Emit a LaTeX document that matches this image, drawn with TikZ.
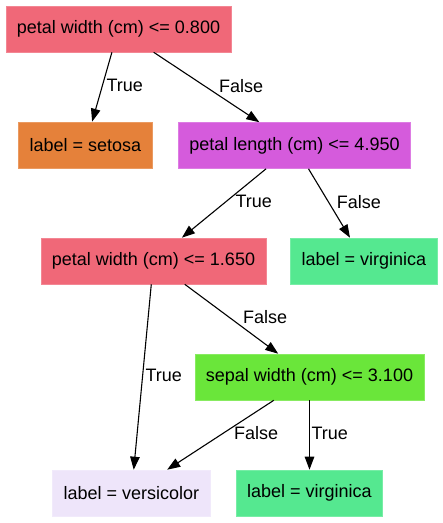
\documentclass[tikz,border=0pt]{standalone}
\usepackage{fontspec}
\setmainfont{Liberation Sans}
\usepackage{tikz}
\usetikzlibrary{arrows.meta, positioning}
\usepackage{xcolor}

\definecolor{splitred}{HTML}{F06878}
\definecolor{setosaorange}{HTML}{E5813A}
\definecolor{lengthmagenta}{HTML}{D55BDC}
\definecolor{virginicagreen}{HTML}{55E890}
\definecolor{sepalgreen}{HTML}{6AE63A}
\definecolor{versicolorlav}{HTML}{EEE5FA}

\begin{document}
\begin{tikzpicture}[
x=1pt, y=-1pt,
box/.style={rectangle, fill=#1, draw=#1!80!white, line width=0.6pt, text centered, minimum height=46pt, inner xsep=11pt, font=\fontsize{18}{21}\selectfont},
arrow/.style={-{Triangle[length=13pt, width=9.5pt]}, line width=1.1pt},
lbl/.style={inner sep=0pt, yshift=1.5pt, font=\fontsize{18}{21}\selectfont}
]
    \useasboundingbox (0,0) rectangle (443,523);

    \node[box=splitred] (root) at (118.5,29) {petal width (cm) <= 0.800};
    \node[box=setosaorange] (setosa) at (85.5,145) {label = setosa};
    \node[box=lengthmagenta] (plen) at (294.5,145.5) {petal length (cm) <= 4.950};
    \node[box=splitred] (pwid) at (153.5,261) {petal width (cm) <= 1.650};
    \node[box=virginicagreen] (virg1) at (364,261) {label = virginica};
    \node[box=sepalgreen] (swid) at (309.5,377) {sepal width (cm) <= 3.100};
    \node[box=versicolorlav] (versi) at (131.5,493) {label = versicolor};
    \node[box=virginicagreen] (virg2) at (309.5,493) {label = virginica};

    \draw[arrow] (root) -- node[lbl, right=4pt] {True} (setosa);
    \draw[arrow] (root) -- node[lbl, right=12pt] {False} (plen);
    \draw[arrow] (plen) -- node[lbl, right=11pt] {True} (pwid);
    \draw[arrow] (plen) -- node[lbl, right=7pt] {False} (virg1);
    \draw[arrow] (pwid) -- node[lbl, right=2.5pt] {True} (versi);
    \draw[arrow] (pwid) -- node[lbl, right=11pt] {False} (swid);
    \draw[arrow] (swid) -- node[lbl, right=13pt] {False} (versi);
    \draw[arrow] (swid) -- node[lbl, right=1.5pt] {True} (virg2);

\end{tikzpicture}
\end{document}
